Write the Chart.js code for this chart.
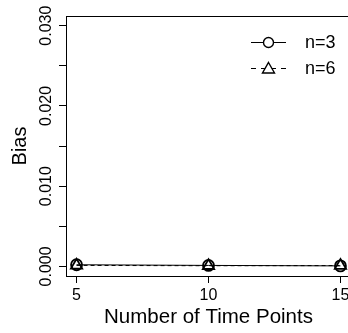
<!DOCTYPE html>
<html>
<head>
<meta charset="utf-8">
<script src="https://cdn.jsdelivr.net/npm/chart.js@4/dist/chart.umd.min.js"></script>
<style>
html,body{margin:0;padding:0;background:#fff;overflow:hidden;width:348px;height:333px;}
canvas{display:block;}
</style>
</head>
<body>
<canvas id="c" width="360" height="333"></canvas>
<script>
const timePoints = [5, 10, 15];
const biasN3 = [0.00020, 0.00012, 0.00006];
const biasN6 = [0.00012, 0.00008, 0.00010];
const seriesNames = ["n=3", "n=6"];
const xTicks = [5, 10, 15];
const yTicks = [0, 0.005, 0.010, 0.015, 0.020, 0.025, 0.030];
const yLabelTicks = ["0.000", "0.010", "0.020", "0.030"];
const xTitle = "Number of Time Points";
const yTitle = "Bias";

const FONT = "'Liberation Sans', Arial, sans-serif";

const frame = {
  id: 'frame',
  afterDraw(chart) {
    const ctx = chart.ctx;
    const a = chart.chartArea;
    const ys = chart.scales.y;
    ctx.save();
    ctx.strokeStyle = '#000';
    ctx.lineWidth = 1;
    ctx.strokeRect(Math.round(a.left) + 0.5, Math.round(a.top) + 0.5, a.right - a.left, a.bottom - a.top);
    // y tick labels, rotated like R
    ctx.fillStyle = '#000';
    ctx.font = "16px " + FONT;
    ctx.textAlign = 'center';
    ctx.textBaseline = 'middle';
    yLabelTicks.forEach(t => {
      const py = ys.getPixelForValue(parseFloat(t));
      ctx.save();
      ctx.translate(47, py);
      ctx.rotate(-Math.PI / 2);
      ctx.fillText(t, 0, 0);
      ctx.restore();
    });
    // legend
    const rows = [42, 68];
    const x0 = 251, x1 = 286, xm = 268.5;
    chart.data.datasets.forEach((ds, i) => {
      const y = rows[i];
      ctx.beginPath();
      ctx.setLineDash(ds.borderDash ? [5, 5] : []);
      ctx.lineWidth = 1;
      ctx.moveTo(x0, y + 0.5);
      ctx.lineTo(x1, y + 0.5);
      ctx.stroke();
      ctx.setLineDash([]);
      ctx.lineWidth = 1.4;
      ctx.beginPath();
      ctx.fillStyle = '#fff';
      if (ds.pointStyle === 'circle') {
        ctx.arc(xm, y + 0.5, 5, 0, Math.PI * 2);
      } else {
        ctx.moveTo(xm, y - 5.5);
        ctx.lineTo(xm + 6, y + 5);
        ctx.lineTo(xm - 6, y + 5);
        ctx.closePath();
      }
      ctx.fill();
      ctx.stroke();
      ctx.fillStyle = '#000';
      ctx.font = "18px " + FONT;
      ctx.textAlign = 'left';
      ctx.textBaseline = 'middle';
      ctx.fillText(seriesNames[i], 305, y + 1);
    });
    ctx.restore();
  }
};

new Chart(document.getElementById('c'), {
  type: 'line',
  data: {
    datasets: [
      {
        label: seriesNames[0],
        data: timePoints.map((x, i) => ({x: x, y: biasN3[i]})),
        borderColor: '#000',
        backgroundColor: 'rgba(0,0,0,0)',
        borderWidth: 1,
        pointStyle: 'circle',
        pointRadius: 5.5,
        pointBorderWidth: 1.8,
        pointBorderColor: '#000',
        pointBackgroundColor: 'rgba(0,0,0,0)',
        tension: 0
      },
      {
        label: seriesNames[1],
        data: timePoints.map((x, i) => ({x: x, y: biasN6[i]})),
        borderColor: '#000',
        backgroundColor: 'rgba(0,0,0,0)',
        borderWidth: 1,
        borderDash: [4, 3],
        pointStyle: 'triangle',
        pointRadius: 6.5,
        pointBorderWidth: 1.8,
        pointBorderColor: '#000',
        pointBackgroundColor: 'rgba(0,0,0,0)',
        tension: 0
      }
    ]
  },
  options: {
    responsive: false,
    animation: false,
    layout: {padding: {top: 16, right: 9, left: 0, bottom: 0}},
    plugins: {legend: {display: false}, tooltip: {enabled: false}},
    scales: {
      x: {
        type: 'linear',
        min: 4.6,
        max: 15.4,
        afterBuildTicks: s => { s.ticks = xTicks.map(v => ({value: v})); },
        afterFit: s => { s.height = 57; },
        border: {display: false},
        grid: {drawOnChartArea: false, drawTicks: true, tickLength: 7, tickColor: '#000', tickWidth: 1},
        ticks: {color: '#000', font: {family: FONT, size: 16}, padding: 3, maxRotation: 0, minRotation: 0},
        title: {display: true, text: xTitle, color: '#000', font: {family: FONT, size: 20.5}, padding: {top: 3, bottom: 3}}
      },
      y: {
        type: 'linear',
        min: -0.0012,
        max: 0.0312,
        afterBuildTicks: s => { s.ticks = yTicks.map(v => ({value: v})); },
        afterFit: s => { s.width = 66; },
        border: {display: false},
        grid: {drawOnChartArea: false, drawTicks: true, tickLength: 7, tickColor: '#000', tickWidth: 1},
        ticks: {display: false},
        title: {display: true, text: yTitle, color: '#000', font: {family: FONT, size: 20}, padding: {top: 8, bottom: 0}}
      }
    }
  },
  plugins: [frame]
});
</script>
</body>
</html>
